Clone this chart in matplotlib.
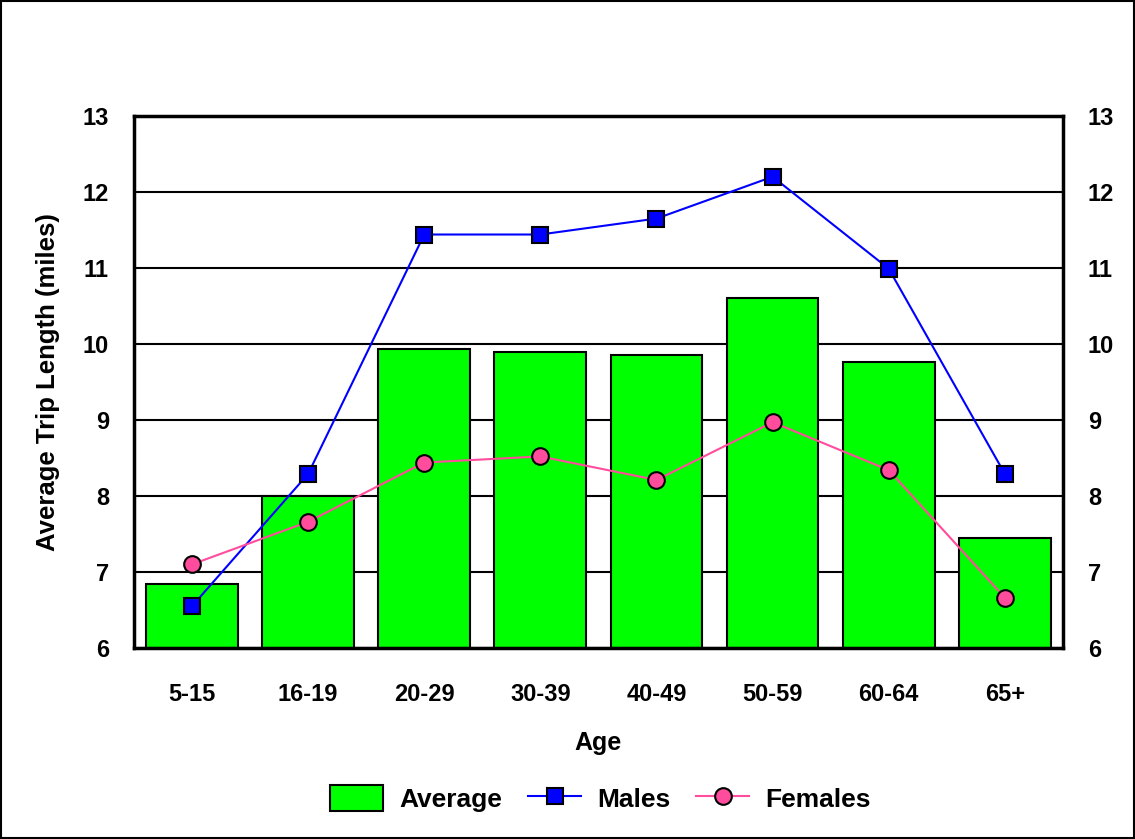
import numpy as np
import matplotlib.pyplot as plt
from matplotlib.patches import Rectangle

plt.rcParams['font.family'] = ['Liberation Sans', 'DejaVu Sans']
plt.rcParams['font.weight'] = 'bold'

# Donnees
ages = ["5-15", "16-19", "20-29", "30-39", "40-49", "50-59", "60-64", "65+"]
average = [6.84, 8.0, 9.94, 9.89, 9.86, 10.6, 9.76, 7.45]
males = [6.55, 8.29, 11.44, 11.44, 11.65, 12.2, 10.99, 8.29]
females = [7.1, 7.66, 8.44, 8.52, 8.21, 8.97, 8.34, 6.66]

fig = plt.figure(figsize=(11.35, 8.39), dpi=100)
ax = fig.add_axes([0.118, 0.2277, 0.8185, 0.6341])
x = np.arange(len(ages))

b = ax.bar(x, np.array(average) - 6, bottom=6, width=0.79, color="#00ff00",
           edgecolor="black", linewidth=1.5, label="Average", zorder=2)
l1, = ax.plot(x, males, color="#0000ff", lw=1.5, marker="s", markersize=12,
              markerfacecolor="#0000ff", markeredgecolor="black", markeredgewidth=1.5,
              label="Males", zorder=3)
l2, = ax.plot(x, females, color="#ff4c9c", lw=1.5, marker="o", markersize=12,
              markerfacecolor="#ff4c9c", markeredgecolor="black", markeredgewidth=1.5,
              label="Females", zorder=3)

ax.set_xlim(-0.5, len(ages) - 0.5)
ax.set_ylim(6, 13)
ax.set_yticks(range(6, 14))
ax.yaxis.grid(True, color="black", lw=1.5, zorder=0)
ax.set_axisbelow(True)
ax.set_xticks(x)
ax.set_xticklabels(ages)
ax.tick_params(length=0, labelsize=17, pad=25)
ax.tick_params(axis="y", right=True, labelright=True, pad=18)
for s in ax.spines.values():
    s.set_linewidth(2.5)

ax.set_xlabel("Age", fontsize=18, fontweight="bold", labelpad=18)
ax.set_ylabel("Average Trip Length (miles)", fontsize=18.5, fontweight="bold", labelpad=16)

leg = fig.legend([b, l1, l2], ["Average", "Males", "Females"], loc="center",
                 bbox_to_anchor=(0.529, 0.048), ncol=3, frameon=False,
                 fontsize=19, handlelength=2.0, handleheight=1.1, columnspacing=1.0,
                 handletextpad=0.6)

fig.patches.append(Rectangle((0.001, 0.001), 0.998, 0.998, transform=fig.transFigure,
                             fill=False, edgecolor="black", lw=1.5))

fig.savefig("out.png", dpi=100)
